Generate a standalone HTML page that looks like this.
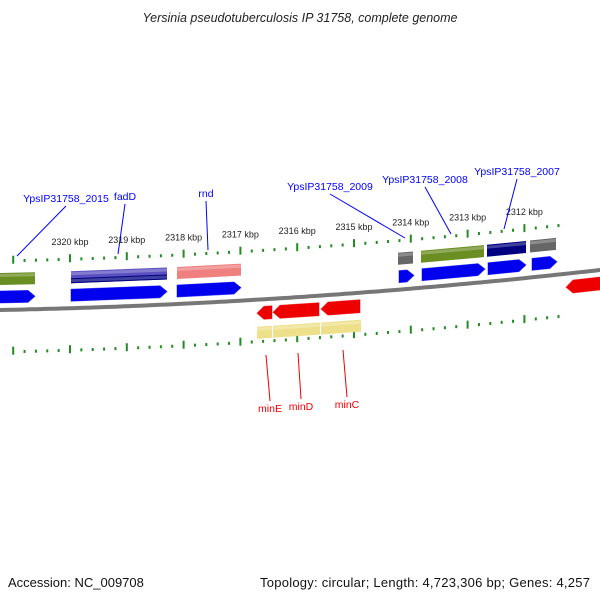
<!DOCTYPE html>
<html><head><meta charset="utf-8"><style>
body{margin:0;background:#fff;}
svg{display:block;font-family:"Liberation Sans","DejaVu Sans",sans-serif;}
</style></head><body>
<svg id="chart" width="600" height="600" viewBox="0 0 600 600">
<text x="300" y="22" text-anchor="middle" font-size="12.5" font-style="italic" fill="#222">Yersinia pseudotuberculosis IP 31758, complete genome</text>
<g id="plot"></g>
<text x="8" y="587" font-size="13" fill="#111">Accession: NC_009708</text>
<text x="590" y="587" text-anchor="end" font-size="13" fill="#111" textLength="330">Topology: circular; Length: 4,723,306 bp; Genes: 4,257</text>
</svg>
<script>
const tickKbp=[2320,2319,2318,2317,2316,2315,2314,2313,2312];
const topFeatures=[[-1,35,"#6b8e23"],[71,167,"#5a50c0"],[177,241,"#f08080"],[398,413,"#666666"],[421,484,"#6b8e23"],[487,526,"#000080"],[530,556,"#666666"]];
const topCds=[[0,35],[71,167],[177,241],[399,414],[422,485],[488,526],[532,557]];
const botCds=[[257,272],[273,319],[321,360],[566,601]];
const botFeatures=[[257,272],[273,320],[321,361]];
const geneLabels=["YpsIP31758_2015","fadD","rnd","YpsIP31758_2009","YpsIP31758_2008","YpsIP31758_2007"];
const geneLabelPos=[[66,202,17,256],[125,200,118,254],[206,197,208,250],[330,190,405,238],[425,183,451,234],[517,175,504,229]];
const redLabels=["minE","minD","minC"];
const redLabelPos=[[270,412,266,355],[301,410,298,353],[347,408,343,350]];

const NS="http://www.w3.org/2000/svg";
const g=document.getElementById("plot");
function off(x){return 0.02*x+0.0000778*x*x;}
function yAt(base,x){return base-off(x);}
function xK(k){return 70+(2320-k)*56.8;}
function mk(tag,attrs,parent){const e=document.createElementNS(NS,tag);for(const k in attrs)e.setAttribute(k,attrs[k]);(parent||g).appendChild(e);return e;}
let d="";for(let x=-5;x<=605;x+=5){d+=(x==-5?"M":"L")+x+","+yAt(310,x).toFixed(1);}
const bb=mk("path",{d:d,stroke:"#777",fill:"none","stroke-width":4});


function tickRow(base,name,labels){
  const start=2321, end=2311.4;
  for(let k=start*5;k>=end*5;k--){
    const kb=k/5,x=xK(kb);if(x<0||x>600)continue;
    const major=(k%5===0),y=yAt(base,x);
    const t=mk("line",{x1:x,x2:x,y1:y-(major?5:1.5),y2:y+(major?3:1.5),stroke:"#228b22","stroke-width":2});
    
    
  }
  if(labels){tickKbp.forEach(k=>{const x=xK(k);const t=mk("text",{x:x,y:yAt(base,x)-14,"text-anchor":"middle","font-size":"9",fill:"#222"});t.textContent=k+" kbp";
    
    });}
}
tickRow(261,"top-scale",true);tickRow(352,"bottom-scale",false);
function band(x1,x2,base,h,fill,name){
  const p=`M${x1},${yAt(base,x1)-h} L${x2},${yAt(base,x2)-h} L${x2},${yAt(base,x2)} L${x1},${yAt(base,x1)}Z`;
  const e=mk("path",{d:p,fill:fill});
  
  
  mk("path",{d:`M${x1},${yAt(base,x1)-h+2.5} L${x2},${yAt(base,x2)-h+2.5}`,stroke:"#fff","stroke-opacity":0.25,"stroke-width":3});
  return e;
}
function arrow(x1,x2,base,h,fill,dir,name){
  const a=Math.min(7,(x2-x1)/2);let p;
  if(dir>0)p=`M${x1},${yAt(base,x1)-h} L${x2-a},${yAt(base,x2-a)-h} L${x2},${yAt(base,x2)-h/2} L${x2-a},${yAt(base,x2-a)} L${x1},${yAt(base,x1)}Z`;
  else p=`M${x1},${yAt(base,x1)-h/2} L${x1+a},${yAt(base,x1+a)-h} L${x2},${yAt(base,x2)-h} L${x2},${yAt(base,x2)} L${x1+a},${yAt(base,x1+a)}Z`;
  const e=mk("path",{d:p,fill:fill,stroke:fill,"stroke-opacity":0.6,"stroke-width":0.8});
  
  
}
topFeatures.forEach((f,i)=>{band(f[0],f[1],285,12,f[2],'feature-top-'+i);
  if(i===1){band(f[0],f[1],285,5,"#000080",'feature-top-'+i+'-lower');}});
topCds.forEach((f,i)=>arrow(f[0],f[1],303,12,"#0000ee",1,'cds-forward-'+i));
botCds.forEach((f,i)=>arrow(f[0],f[1],330,13,"#ee0000",-1,'cds-reverse-'+i));
botFeatures.forEach((f,i)=>band(f[0],f[1],349,12,"#eee08a",'feature-bottom-'+i));
function labels(arr,pos,col,pre){
  arr.forEach((s,i)=>{const p=pos[i];
    const l=mk("line",{x1:p[0],y1:p[1]+(col==="#00f"?4:-11),x2:p[2],y2:p[3],stroke:col,"stroke-width":1});
    
    
    const t=mk("text",{x:p[0],y:p[1],"text-anchor":"middle","font-size":"10.5",fill:col});t.textContent=s;
    
    });
}
labels(geneLabels,geneLabelPos,"#00f","gene");
labels(redLabels,redLabelPos,"#e00","reverse-gene");
</script>
</body></html>
